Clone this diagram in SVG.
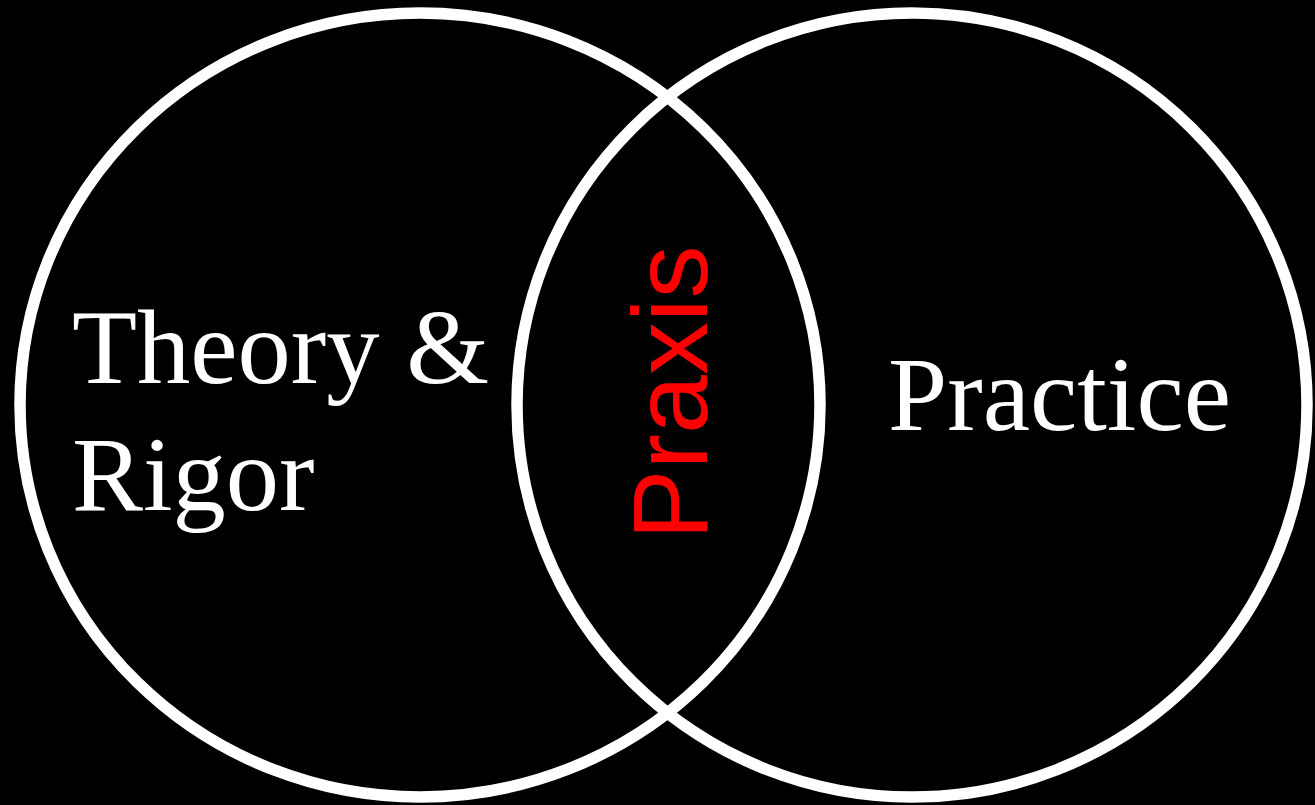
<svg xmlns="http://www.w3.org/2000/svg" width="1315" height="805" viewBox="0 0 1315 805">
<style>
.ring{fill:none;stroke:#ffffff;stroke-width:11.5}
.serif{font-family:"Liberation Serif","Times New Roman",serif;font-size:106.5px;fill:#ffffff}
.sans{font-family:"Liberation Sans",Arial,sans-serif;font-size:106px;fill:#ff0000}
</style>
<rect x="0" y="0" width="1315" height="805" fill="#000000"/>
<g id="theory">
<ellipse class="ring" cx="420" cy="405" rx="400" ry="392"/>
<text class="serif" x="72" y="383">Theory &amp;</text>
<text class="serif" x="72" y="510">Rigor</text>
</g>
<g id="practice">
<ellipse class="ring" cx="912" cy="405" rx="395" ry="392"/>
<text class="serif" x="888" y="430">Practice</text>
</g>
<g id="praxis">
<text class="sans" transform="translate(707,540) rotate(-90)" x="0" y="0">Praxis</text>
</g>
<g id="connectors"/>
</svg>
